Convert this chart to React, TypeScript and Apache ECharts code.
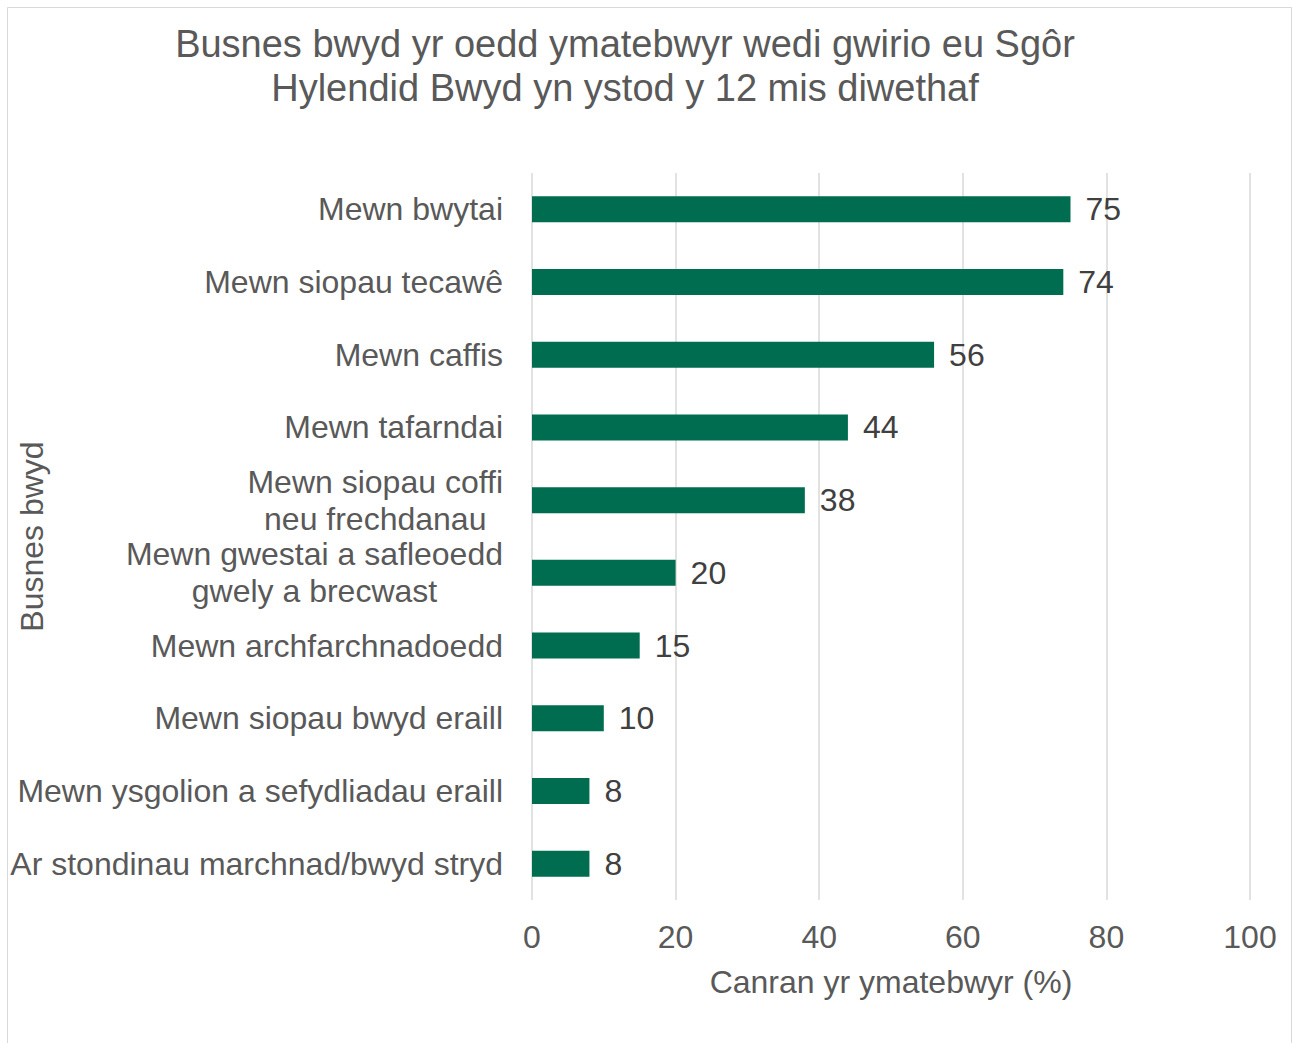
import React, { useEffect, useRef } from "react";
import * as echarts from "echarts";

const titleLines = [
  "Busnes bwyd yr oedd ymatebwyr wedi gwirio eu Sgôr",
  "Hylendid Bwyd yn ystod y 12 mis diwethaf",
];
const categories = [
  "Mewn bwytai",
  "Mewn siopau tecawê",
  "Mewn caffis",
  "Mewn tafarndai",
  "Mewn siopau coffi\nneu frechdanau",
  "Mewn gwestai a safleoedd\ngwely a brecwast",
  "Mewn archfarchnadoedd",
  "Mewn siopau bwyd eraill",
  "Mewn ysgolion a sefydliadau eraill",
  "Ar stondinau marchnad/bwyd stryd",
];
const values = [75, 74, 56, 44, 38, 20, 15, 10, 8, 8];
const xAxisName = "Canran yr ymatebwyr (%)";
const yAxisName = "Busnes bwyd";

const FONT = '"Liberation Sans", Arial, sans-serif';

export default function App() {
  const ref = useRef<HTMLDivElement>(null);
  useEffect(() => {
    if (!ref.current) return;
    const chart = echarts.init(ref.current, undefined, { renderer: "svg" });
    chart.setOption({
      animation: false,
      backgroundColor: "#ffffff",
      textStyle: { fontFamily: FONT },
      graphic: [
        {
          type: "rect",
          shape: { x: 7.5, y: 7.5, width: 1284, height: 1045 },
          style: { fill: "none", stroke: "#d9d9d9", lineWidth: 1 },
          z: -1,
        },
        {
          type: "text",
          x: 625,
          y: 22,
          style: {
            text: titleLines.join("\n"),
            fill: "#595959",
            font: `38px ${FONT}`,
            textAlign: "center",
            lineHeight: 44,
          },
        },
      ],
      grid: {
        left: 532,
        right: 43,
        top: 173,
        bottom: 143,
        containLabel: false,
        outerBoundsMode: "none",
      },
      xAxis: {
        type: "value",
        min: 0,
        max: 100,
        interval: 20,
        name: xAxisName,
        nameLocation: "middle",
        nameGap: 66,
        nameMoveOverlap: false,
        nameTextStyle: { color: "#595959", fontSize: 32, fontFamily: FONT },
        axisLine: { show: false },
        axisTick: { show: false },
        axisLabel: { color: "#595959", fontSize: 32, margin: 21, fontFamily: FONT },
        splitLine: { show: true, lineStyle: { color: "#d9d9d9", width: 1.5 } },
      },
      yAxis: {
        type: "category",
        inverse: true,
        data: categories,
        name: yAxisName,
        nameLocation: "middle",
        nameGap: 484,
        nameMoveOverlap: false,
        nameTextStyle: { color: "#595959", fontSize: 32, fontFamily: FONT },
        axisLine: { show: false },
        axisTick: { show: false },
        axisLabel: {
          margin: 29,
          formatter: (v: string) => `{c|${v}}`,
          rich: {
            c: {
              color: "#595959",
              fontSize: 32,
              fontFamily: FONT,
              lineHeight: 37,
              align: "center",
            },
          },
        },
      },
      series: [
        {
          type: "bar",
          data: values,
          barWidth: 26,
          itemStyle: { color: "#006d50" },
          label: {
            show: true,
            position: "right",
            distance: 15,
            color: "#404040",
            fontSize: 32,
            fontFamily: FONT,
          },
        },
      ],
    });
    return () => chart.dispose();
  }, []);
  return (
    <div
      ref={ref}
      style={{ position: "fixed", left: 0, top: 0, width: 1293, height: 1043 }}
    />
  );
}
